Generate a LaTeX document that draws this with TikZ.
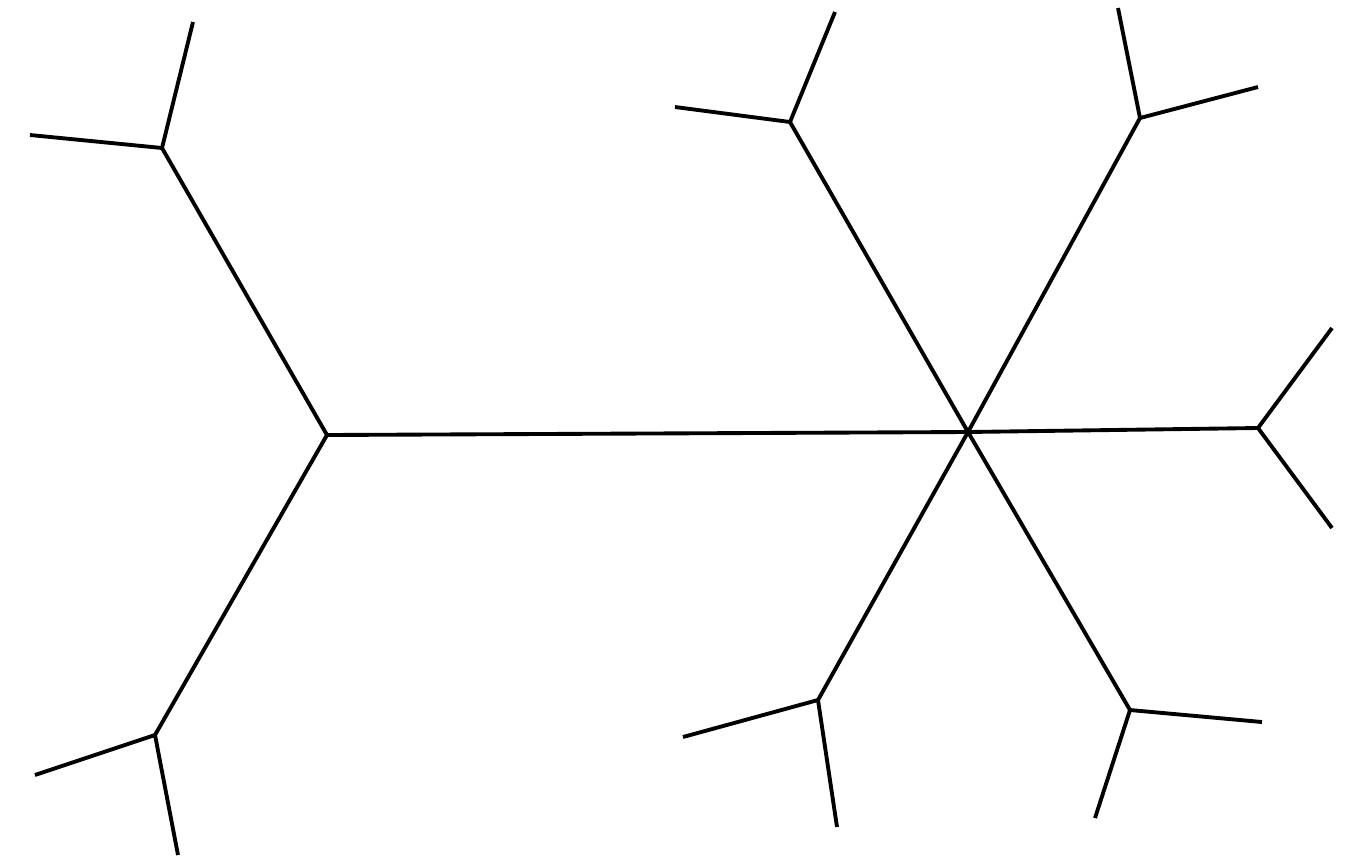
\documentclass[tikz,border=0pt]{standalone}
\begin{document}
\begin{tikzpicture}[x=0.01cm,y=0.01cm,line width = 1.1pt]
\useasboundingbox (0,0) rectangle (1360,-863);
\coordinate (l0) at (327,-435);
\coordinate (r0) at (968,-432);
\coordinate (l1) at (162,-148);
\coordinate (l2) at (155,-735);
\coordinate (l1a) at (30,-135);
\coordinate (l1b) at (193,-22);
\coordinate (l2a) at (35,-775);
\coordinate (l2b) at (178,-855);
\coordinate (r1) at (790,-122);
\coordinate (r2) at (1140,-118);
\coordinate (r3) at (1258,-428);
\coordinate (r4) at (818,-700);
\coordinate (r5) at (1130,-710);
\coordinate (r1a) at (675,-107);
\coordinate (r1b) at (835,-12);
\coordinate (r2a) at (1118,-8);
\coordinate (r2b) at (1258,-87);
\coordinate (r3a) at (1332,-328);
\coordinate (r3b) at (1332,-528);
\coordinate (r4a) at (683,-737);
\coordinate (r4b) at (837,-827);
\coordinate (r5a) at (1262,-722);
\coordinate (r5b) at (1095,-818);
\draw [] (l0) -- (r0);
\draw [] (l0) -- (l1);
\draw [] (l0) -- (l2);
\draw [] (l1) -- (l1a);
\draw [] (l1) -- (l1b);
\draw [] (l2) -- (l2a);
\draw [] (l2) -- (l2b);
\draw [] (r0) -- (r1);
\draw [] (r0) -- (r2);
\draw [] (r0) -- (r3);
\draw [] (r0) -- (r4);
\draw [] (r0) -- (r5);
\draw [] (r1) -- (r1a);
\draw [] (r1) -- (r1b);
\draw [] (r2) -- (r2a);
\draw [] (r2) -- (r2b);
\draw [] (r3) -- (r3a);
\draw [] (r3) -- (r3b);
\draw [] (r4) -- (r4a);
\draw [] (r4) -- (r4b);
\draw [] (r5) -- (r5a);
\draw [] (r5) -- (r5b);
\end{tikzpicture}
\end{document}
